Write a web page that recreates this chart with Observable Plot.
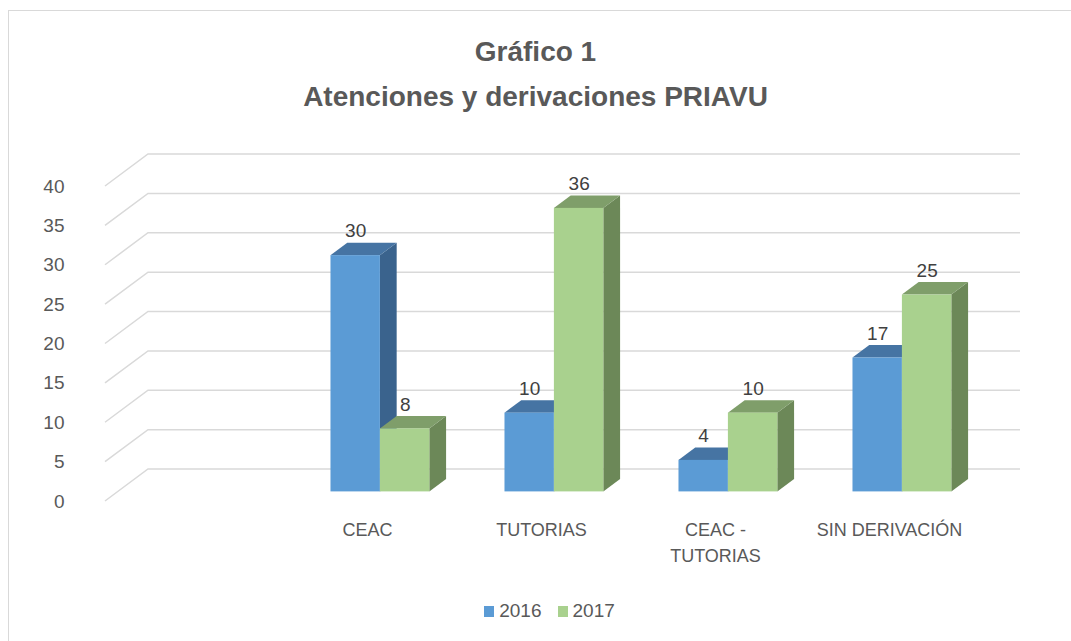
<!DOCTYPE html>
<html>
<head>
<meta charset="utf-8">
<script src="https://cdn.jsdelivr.net/npm/d3@7"></script>
<script src="https://cdn.jsdelivr.net/npm/@observablehq/plot@0.6"></script>
<style>
  html, body { margin: 0; padding: 0; background: #fff; }
  #wrap { position: relative; width: 1071px; height: 641px; overflow: hidden; font-family: "Liberation Sans", Arial, sans-serif; color: #595959; }
  #border { position: absolute; left: 8px; top: 10px; width: 1200px; height: 800px; border: 1.5px solid #d9d9d9; box-sizing: border-box; }
  .title { position: absolute; left: 0; width: 1071px; text-align: center; font-weight: bold; font-size: 28px; line-height: 1; }
  #legend { position: absolute; top: 600px; left: 0; width: 1071px; display: flex; justify-content: center; align-items: center; font-size: 19px; padding-left: 28px; box-sizing: border-box; }
  .sw { display: inline-block; width: 10px; height: 11px; margin-right: 5px; }
  .item { display: inline-flex; align-items: center; margin: 0 8px; }
  svg { position: absolute; left: 0; top: 0; }
</style>
</head>
<body>
<div id="wrap">
  <div id="border"></div>
  <div id="chart"></div>
  <div class="title" style="top:38px">Gráfico 1</div>
  <div class="title" style="top:83px">Atenciones y derivaciones PRIAVU</div>
  <div id="legend"></div>
</div>
<script>
// ---- data ----
const categories = ["CEAC", "TUTORIAS", "CEAC - TUTORIAS", "SIN DERIVACIÓN"];
const seriesNames = ["2016", "2017"];
const values2016 = [30, 10, 4, 17];
const values2017 = [8, 36, 10, 25];
const yTicks = [0, 5, 10, 15, 20, 25, 30, 35, 40];

// the original has an empty first category slot
const xDomain = [""].concat(categories);

const colors = {
  "2016": {front: "#5B9BD5", side: "#3A638D", top: "#4674A3"},
  "2017": {front: "#A9D18E", side: "#6C8858", top: "#7F9E6A"}
};

const DX = 43, DY = 32;          // depth of the floor / back wall
const D0 = 0.3, D1 = 0.69;       // bar depth position (front/back fraction)
const GROUP = 0.568;             // fraction of the band used by the pair of bars

const rows = [];
categories.forEach((c, i) => {
  rows.push({cat: c, series: "2016", s: 0, value: values2016[i]});
  rows.push({cat: c, series: "2017", s: 1, value: values2017[i]});
});

// back wall gridlines with the slanted left-wall part
function gridMark(index, scales, values, dims) {
  const g = d3.create("svg:g").attr("fill", "none").attr("stroke", "#d9d9d9").attr("stroke-width", 1.5);
  const x0 = dims.marginLeft;
  const xr = dims.width - dims.marginRight + DX;
  for (const t of yTicks) {
    const y = scales.y(t);
    g.append("path").attr("d", `M${x0},${y}L${x0 + DX},${y - DY}L${xr},${y - DY}`);
  }
  return g.node();
}

// 3D bars drawn with the x (band) and y scales
function barsMark(seriesName) {
  return (index, scales, values, dims) => {
    const g = d3.create("svg:g");
    const bw = scales.x.bandwidth ? scales.x.bandwidth() : 174;
    const w = bw * GROUP / 2;
    const c = colors[seriesName];
    const fx = DX * D0, fy = DY * D0;
    const ddx = DX * (D1 - D0), ddy = DY * (D1 - D0);
    for (const r of rows.filter(r => r.series === seriesName)) {
      const x0 = scales.x(r.cat) + bw * (1 - GROUP) / 2 + r.s * w + fx;
      const x1 = x0 + w;
      const yT = scales.y(r.value) - fy;
      const yB = scales.y(0) - fy;
      g.append("polygon").attr("fill", c.side)
        .attr("points", `${x1},${yB} ${x1 + ddx},${yB - ddy} ${x1 + ddx},${yT - ddy} ${x1},${yT}`);
      g.append("polygon").attr("fill", c.top)
        .attr("points", `${x0},${yT} ${x0 + ddx},${yT - ddy} ${x1 + ddx},${yT - ddy} ${x1},${yT}`);
      g.append("rect").attr("fill", c.front)
        .attr("x", x0).attr("y", yT).attr("width", w).attr("height", yB - yT);
    }
    return g.node();
  };
}

const bw0 = (1071 - 105 - 94) / xDomain.length;
const half = bw0 * GROUP / 4;
const labelDx = [-half + DX * D0, half + DX * D0];

const plot = Plot.plot({
  width: 1071,
  height: 641,
  marginLeft: 105,
  marginRight: 94,
  marginTop: 186,
  marginBottom: 140,
  style: {fontFamily: "Liberation Sans, Arial, sans-serif", fontSize: "19px", color: "#595959", background: "transparent"},
  x: {type: "band", domain: xDomain, padding: 0},
  y: {domain: [0, 40]},
  marks: [
    gridMark,
    Plot.axisY({ticks: yTicks, tickSize: 0, tickPadding: 41, label: null, fontSize: 19}),
    Plot.axisX({tickSize: 0, tickPadding: 17, label: null, fontSize: 18, lineHeight: 1.4,
      tickFormat: d => d.replace(" - ", " -\n")}),
    barsMark("2016"),
    barsMark("2017"),
    Plot.text(values2016, {x: (d, i) => categories[i], y: d => d, text: d => String(d),
      dx: labelDx[0], dy: -34, fontSize: 19, fill: "#404040"}),
    Plot.text(values2017, {x: (d, i) => categories[i], y: d => d, text: d => String(d),
      dx: labelDx[1], dy: -34, fontSize: 19, fill: "#404040"})
  ]
});
document.getElementById("chart").appendChild(plot);

const legend = document.getElementById("legend");
seriesNames.forEach(s => {
  const it = document.createElement("span");
  it.className = "item";
  it.innerHTML = `<span class="sw" style="background:${colors[s].front}"></span>${s}`;
  legend.appendChild(it);
});
</script>
</body>
</html>
